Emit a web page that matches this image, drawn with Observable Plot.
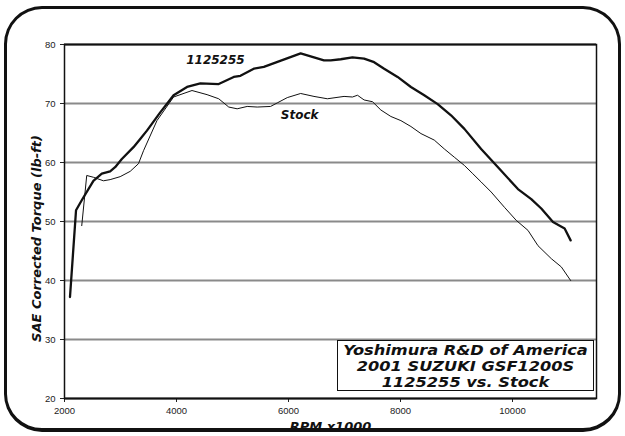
<!DOCTYPE html>
<html><head><meta charset="utf-8">
<script src="https://cdn.jsdelivr.net/npm/d3@7"></script>
<script src="https://cdn.jsdelivr.net/npm/@observablehq/plot@0.6"></script>
<style>
html,body{margin:0;padding:0;background:#fff;}
#wrap{position:relative;width:625px;height:436px;overflow:hidden;background:#fff;}
#frame{position:absolute;left:4px;top:6px;width:617px;height:426px;box-sizing:border-box;border:3px solid #111;border-bottom-width:4px;border-radius:38px;box-shadow:0 0 0 40px #fff;pointer-events:none;}
#legend{position:absolute;left:337px;top:340px;width:257px;height:51px;box-sizing:border-box;border:1px solid #111;background:#fff;font:italic bold 13.5px "DejaVu Sans",sans-serif;color:#111;text-align:center;line-height:16px;padding-top:1px;}
#legend div{transform:scaleX(1.2);transform-origin:center;white-space:nowrap;height:16px;}
</style>
</head><body>
<div id="wrap"></div>
<script>
const rpm1125 = [2098,2206,2308,2516,2666,2815,2904,3024,3232,3352,3472,3710,3948,4188,4426,4754,5022,5142,5380,5560,6217,6634,6754,6933,7142,7350,7529,7708,7948,8186,8424,8664,8902,9141,9440,9798,10097,10335,10514,10723,10931,11038];
const tq1125  = [37.2,51.9,53.6,56.9,58.1,58.5,59.2,60.6,62.6,64.0,65.4,68.5,71.4,72.8,73.4,73.3,74.5,74.7,75.9,76.2,78.5,77.3,77.3,77.5,77.8,77.6,77.0,75.9,74.5,72.8,71.4,69.9,68.0,65.7,62.3,58.6,55.5,53.8,52.2,49.9,48.8,46.8];
const rpmStock = [2308,2397,2516,2695,2815,2994,3173,3321,3411,3651,3948,4277,4546,4754,4933,5083,5262,5441,5680,5799,5978,6217,6455,6694,6992,7142,7232,7350,7500,7649,7828,8007,8186,8365,8603,8782,8961,9141,9291,9440,9619,9857,10066,10276,10455,10693,10872,11038];
const tqStock  = [49.3,57.8,57.5,56.9,57.1,57.6,58.5,59.8,62.0,67.1,71.1,72.2,71.5,70.8,69.4,69.1,69.5,69.4,69.5,70.1,71.0,71.7,71.2,70.8,71.2,71.1,71.4,70.6,70.3,68.9,67.8,67.1,66.1,64.9,63.8,62.3,60.9,59.5,58.1,56.7,55.0,52.4,50.2,48.5,45.9,43.7,42.3,40.0];
const xTicks = [2000,4000,6000,8000,10000];
const yTicks = [20,30,40,50,60,70,80];
const gridVals = [30,40,50,60,70];
const seriesLabels = [
  {name:"1125255", rpm:4695, tq:77.3},
  {name:"Stock", rpm:6199, tq:68.0}
];
const legendLines = ["Yoshimura R&D of America","2001 SUZUKI GSF1200S","1125255 vs. Stock"];
const yTitle = "SAE Corrected Torque (lb-ft)";
const xTitle = "RPM x1000";

const d1125 = rpm1125.map((r,i)=>({rpm:r, tq:tq1125[i]}));
const dStock = rpmStock.map((r,i)=>({rpm:r, tq:tqStock[i]}));
const titleFont = {fontFamily:"DejaVu Sans", fontWeight:"bold", fontStyle:"italic"};

const chart = Plot.plot({
  width:625, height:436,
  marginLeft:64, marginRight:29, marginTop:44, marginBottom:38,
  style:{fontFamily:"Liberation Sans, Arial, sans-serif", fontSize:"9.5px", color:"#222", background:"#fff"},
  x:{domain:[2000,11500], ticks:xTicks, tickSize:4, tickPadding:5, tickFormat:d3.format("d"), label:null},
  y:{domain:[20,80], ticks:yTicks, tickSize:4, tickPadding:5, tickFormat:d3.format("d"), label:null},
  marks:[
    Plot.ruleY(gridVals, {stroke:"#8a8a8a", strokeWidth:2}),
    Plot.frame({stroke:"#111", strokeWidth:1.5}),
    Plot.ruleY([80], {stroke:"#111", strokeWidth:2}),
    Plot.ruleY([20], {stroke:"#111", strokeWidth:2}),
    Plot.line(dStock, {x:"rpm", y:"tq", stroke:"#111", strokeWidth:1}),
    Plot.line(d1125, {x:"rpm", y:"tq", stroke:"#111", strokeWidth:2.3}),
    Plot.text(seriesLabels, {x:"rpm", y:"tq", text:"name", fontSize:12, ...titleFont, fill:"#111"}),
    Plot.text([yTitle], {frameAnchor:"left", textAnchor:"middle", dx:-28, dy:17, rotate:-90, fontSize:13, ...titleFont, fill:"#111"}),
    Plot.text([xTitle], {frameAnchor:"bottom", textAnchor:"middle", dy:32, fontSize:13, ...titleFont, fill:"#111"})
  ]
});
const wrap = document.getElementById("wrap");
wrap.appendChild(chart);
const legend = document.createElement("div");
legend.id = "legend";
legend.innerHTML = legendLines.map(s => `<div>${s.replace("&","&amp;")}</div>`).join("");
wrap.appendChild(legend);
const frame = document.createElement("div");
frame.id = "frame";
wrap.appendChild(frame);
</script>
</body></html>
